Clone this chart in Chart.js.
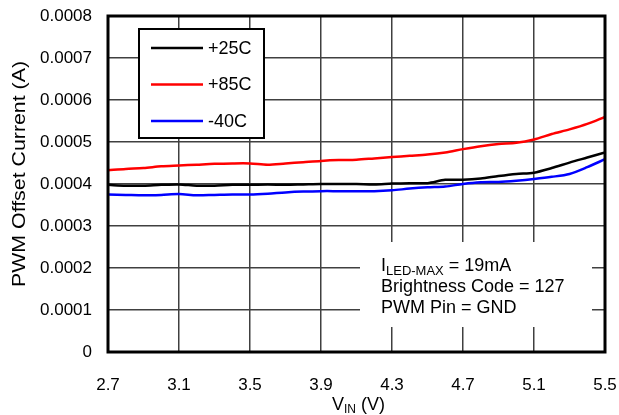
<!DOCTYPE html>
<html>
<head>
<meta charset="utf-8">
<script src="https://cdn.jsdelivr.net/npm/chart.js@4.4.1/dist/chart.umd.min.js"></script>
<style>
  html, body { margin: 0; padding: 0; background: #fff; }
  #wrap { width: 619px; height: 415px; }
</style>
</head>
<body>
<div id="wrap"><canvas id="pwmChart" width="619" height="415"></canvas></div>
<script>
const FONT = "'Liberation Sans', Arial, sans-serif";

// V_IN sweep (V)
const vin = [2.7, 2.8, 2.9, 3.0, 3.1, 3.2, 3.3, 3.4, 3.5, 3.6,
             3.7, 3.8, 3.9, 4.0, 4.1, 4.2, 4.3, 4.4, 4.5, 4.6,
             4.7, 4.8, 4.9, 5.0, 5.1, 5.2, 5.3, 5.4, 5.5];

// PWM offset current (A)
const temp25 = [0.000398, 0.000396, 0.000396, 0.000398, 0.000399, 0.000396, 0.000396, 0.000398, 0.000398, 0.000399,
                0.000398, 0.000399, 0.000400, 0.000400, 0.000400, 0.000399, 0.000401, 0.000402, 0.000402, 0.000410,
                0.000410, 0.000413, 0.000419, 0.000424, 0.000427, 0.000438, 0.000451, 0.000463, 0.000475];
const temp85 = [0.000433, 0.000436, 0.000438, 0.000442, 0.000444, 0.000446, 0.000448, 0.000449, 0.000449, 0.000446,
                0.000449, 0.000452, 0.000455, 0.000457, 0.000458, 0.000461, 0.000464, 0.000467, 0.000470, 0.000475,
                0.000483, 0.000490, 0.000495, 0.000498, 0.000506, 0.000519, 0.000530, 0.000543, 0.000560];
const tempM40 = [0.000375, 0.000374, 0.000373, 0.000374, 0.000376, 0.000373, 0.000374, 0.000375, 0.000375, 0.000377,
                 0.000380, 0.000382, 0.000383, 0.000383, 0.000383, 0.000383, 0.000385, 0.000389, 0.000392, 0.000394,
                 0.000400, 0.000404, 0.000405, 0.000408, 0.000412, 0.000417, 0.000424, 0.000440, 0.000459];

const seriesLabels = ["+25C", "+85C", "-40C"];
const seriesColors = ["#000000", "#ff0000", "#0000ff"];

const xTicks = [2.7, 3.1, 3.5, 3.9, 4.3, 4.7, 5.1, 5.5];
const yTicks = [0, 0.0001, 0.0002, 0.0003, 0.0004, 0.0005, 0.0006, 0.0007, 0.0008];

const noteLines = ["= 19mA", "Brightness Code = 127", "PWM Pin = GND"];

const toPoints = arr => arr.map((y, i) => ({ x: vin[i], y }));

// legend, text box, frame and axis titles drawn on top
const overlay = {
  id: "overlay",
  afterDatasetsDraw(chart) {
    const ctx = chart.ctx;
    ctx.save();

    // legend box
    ctx.fillStyle = "#fff";
    ctx.fillRect(139, 29, 125, 109);
    ctx.strokeStyle = "#000";
    ctx.lineWidth = 2;
    ctx.strokeRect(139, 29, 125, 109);
    ctx.font = "18px " + FONT;
    ctx.textBaseline = "middle";
    chart.data.datasets.forEach((ds, k) => {
      const y = 48 + k * 36.5;
      ctx.strokeStyle = ds.borderColor;
      ctx.lineWidth = 2.5;
      ctx.beginPath();
      ctx.moveTo(151, y);
      ctx.lineTo(203, y);
      ctx.stroke();
      ctx.fillStyle = "#000";
      ctx.fillText(ds.label, 208, y + 1);
    });

    // conditions box
    ctx.fillStyle = "#fff";
    ctx.fillRect(360, 242, 232, 85);
    ctx.fillStyle = "#000";
    ctx.textBaseline = "alphabetic";
    ctx.font = "18px " + FONT;
    ctx.fillText("I", 381, 271);
    let x = 381 + ctx.measureText("I").width;
    ctx.font = "13px " + FONT;
    ctx.fillText("LED-MAX", x, 275);
    x += ctx.measureText("LED-MAX").width;
    ctx.font = "18px " + FONT;
    ctx.fillText(" " + noteLines[0], x, 271);
    ctx.fillText(noteLines[1], 381, 291.5);
    ctx.fillText(noteLines[2], 381, 312.5);
    ctx.restore();
  },
  afterDraw(chart) {
    const { ctx, chartArea: a } = chart;
    ctx.save();
    ctx.strokeStyle = "#000";
    ctx.lineWidth = 3;
    ctx.strokeRect(a.left, a.top, a.right - a.left, a.bottom - a.top);

    // x title with subscript
    ctx.fillStyle = "#000";
    ctx.textBaseline = "alphabetic";
    ctx.font = "18px " + FONT;
    const wV = ctx.measureText("V").width;
    const wP = ctx.measureText(" (V)").width;
    ctx.font = "12px " + FONT;
    const wS = ctx.measureText("IN").width;
    let x = (a.left + a.right) / 2 - (wV + wS + wP) / 2 + 2;
    ctx.font = "18px " + FONT;
    ctx.fillText("V", x, 410);
    x += wV;
    ctx.font = "12px " + FONT;
    ctx.fillText("IN", x, 413);
    x += wS;
    ctx.font = "18px " + FONT;
    ctx.fillText(" (V)", x, 410);

    // y title, stretched along its length like the original
    const title = "PWM Offset Current (A)";
    ctx.font = "18px " + FONT;
    const tw = ctx.measureText(title).width;
    ctx.translate(25, (a.top + a.bottom) / 2 - 10);
    ctx.rotate(-Math.PI / 2);
    ctx.scale(226 / tw, 1);
    ctx.textAlign = "center";
    ctx.fillText(title, 0, 0);
    ctx.restore();
  }
};

new Chart(document.getElementById("pwmChart"), {
  type: "line",
  data: {
    datasets: [temp25, temp85, tempM40].map((arr, k) => ({
      label: seriesLabels[k],
      data: toPoints(arr),
      borderColor: seriesColors[k],
      borderWidth: 2.5,
      pointRadius: 0,
      tension: 0.3,
      fill: false
    }))
  },
  options: {
    responsive: false,
    animation: false,
    layout: { padding: { top: 16, right: 14, left: 0, bottom: 0 } },
    plugins: {
      legend: { display: false },
      tooltip: { enabled: false }
    },
    scales: {
      x: {
        type: "linear",
        min: 2.7,
        max: 5.5,
        afterBuildTicks: s => { s.ticks = xTicks.map(v => ({ value: v })); },
        afterFit: s => { s.height = 63; s.paddingLeft = 0; s.paddingRight = 0; },
        grid: { color: "#404040", lineWidth: 1.5, drawTicks: false },
        border: { display: false },
        ticks: {
          padding: 23,
          color: "#000",
          font: { family: FONT, size: 17 },
          callback: v => v.toFixed(1)
        }
      },
      y: {
        min: 0,
        max: 0.0008,
        afterBuildTicks: s => { s.ticks = yTicks.map(v => ({ value: v })); },
        afterFit: s => { s.width = 108; s.paddingTop = 0; s.paddingBottom = 0; },
        grid: { color: "#404040", lineWidth: 1.5, drawTicks: false },
        border: { display: false },
        ticks: {
          padding: 16,
          color: "#000",
          font: { family: FONT, size: 17 },
          callback: v => (v === 0 ? "0" : v.toFixed(4))
        }
      }
    }
  },
  plugins: [overlay]
});
</script>
</body>
</html>
